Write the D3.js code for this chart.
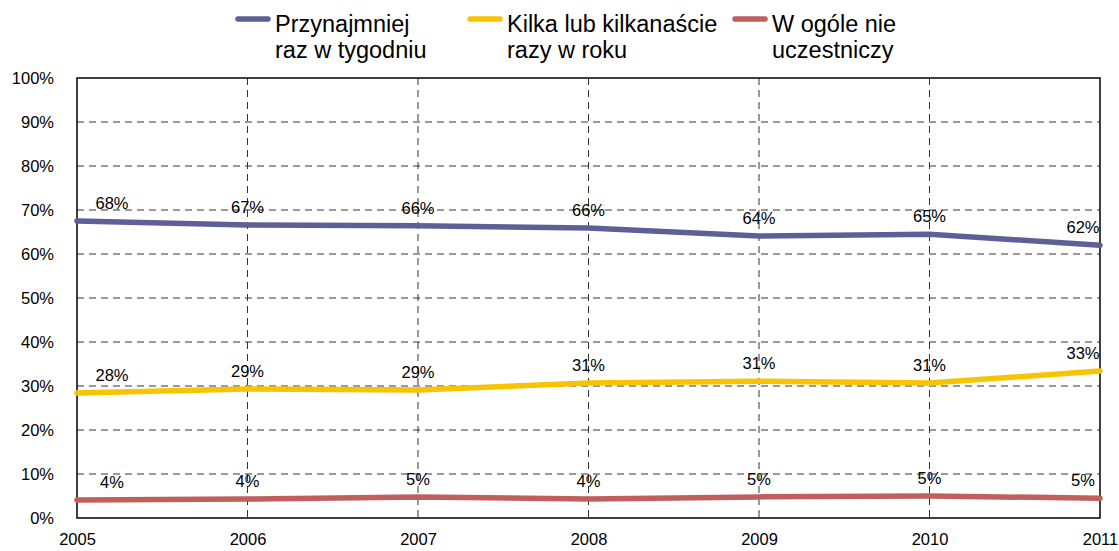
<!DOCTYPE html>
<html lang="pl">
<head>
    <meta charset="UTF-8">
    <title>Uczestnictwo</title>
    <script src="https://d3js.org/d3.v7.js"></script>
    <style>
        body { margin: 0; background: #fff; font-family: "Liberation Sans", Arial, sans-serif; }
    </style>
</head>
<body>
    <div class="canvas"></div>
    <script>
        // dane
        let years = ["2005", "2006", "2007", "2008", "2009", "2010", "2011"];
        let weekly = [67.5, 66.6, 66.4, 65.9, 64.1, 64.5, 62.0];
        let yearly = [28.4, 29.3, 29.1, 30.7, 31.1, 30.7, 33.4];
        let never = [4.1, 4.3, 4.8, 4.3, 4.8, 5.0, 4.5];
        let seriesNames = [["Przynajmniej", "raz w tygodniu"], ["Kilka lub kilkanaście", "razy w roku"], ["W ogóle nie", "uczestniczy"]];
        let yTicks = [0, 10, 20, 30, 40, 50, 60, 70, 80, 90, 100];
        let colors = ["#5f5f98", "#f8c300", "#c0605e"];

        let series = [weekly, yearly, never].map((v, i) => ({ name: seriesNames[i], values: v, color: colors[i] }));

        // płótno
        let margin = { top: 78, right: 19, bottom: 33, left: 77 };
        let width = 1119 - margin.left - margin.right;
        let height = 551 - margin.top - margin.bottom;

        let svg = d3.select(".canvas").append("svg")
            .attr("width", 1119)
            .attr("height", 551);
        let canvas = svg.append("g")
            .attr("transform", "translate(" + margin.left + "," + margin.top + ")");

        let x_scale = d3.scalePoint().domain(years).range([0, width]);
        let y_scale = d3.scaleLinear().domain([0, 100]).range([height, 0]);

        // siatka
        canvas.append("g")
            .selectAll("line.hgrid").data(yTicks.slice(1, -1)).enter().append("line")
            .attr("x1", 0).attr("x2", width)
            .attr("y1", d => y_scale(d)).attr("y2", d => y_scale(d))
            .attr("stroke", "#333").attr("stroke-dasharray", "7,5");
        canvas.append("g")
            .selectAll("line.vgrid").data(years.slice(1, -1)).enter().append("line")
            .attr("x1", d => x_scale(d)).attr("x2", d => x_scale(d))
            .attr("y1", 0).attr("y2", height)
            .attr("stroke", "#333").attr("stroke-dasharray", "7,5");

        // osie
        let yAxis = canvas.append("g")
            .call(d3.axisLeft(y_scale).tickValues(yTicks).tickFormat(d => d + "%").tickSize(0).tickPadding(23));
        yAxis.select(".domain").remove();
        yAxis.selectAll("text").style("font-size", "16.5px").style("font-family", "Liberation Sans, Arial, sans-serif").attr("fill", "#000");

        let xAxis = canvas.append("g")
            .attr("transform", "translate(0," + height + ")")
            .call(d3.axisBottom(x_scale).tickSize(0).tickPadding(15));
        xAxis.select(".domain").remove();
        xAxis.selectAll("text").style("font-size", "16.5px").style("font-family", "Liberation Sans, Arial, sans-serif").attr("fill", "#000");

        canvas.append("rect")
            .attr("width", width).attr("height", height)
            .attr("fill", "none").attr("stroke", "#000").attr("stroke-width", 1.5);

        // linie
        let line = d3.line()
            .x((d, i) => x_scale(years[i]))
            .y(d => y_scale(d));

        canvas.selectAll(".series").data(series).enter().append("path")
            .attr("class", "series")
            .attr("d", d => line(d.values))
            .attr("fill", "none")
            .attr("stroke", d => d.color)
            .attr("stroke-width", 5.5)
            .attr("stroke-linecap", "round");

        // etykiety
        series.forEach(s => {
            canvas.selectAll(null).data(s.values).enter().append("text")
                .attr("x", (d, i) => x_scale(years[i]) + (i === 0 ? 35 : i === years.length - 1 ? -17 : 0))
                .attr("y", d => y_scale(d) - 12)
                .attr("text-anchor", "middle")
                .style("font-size", "16.5px")
                .text(d => Math.round(d) + "%");
        });

        // legenda
        let legendX = [238, 470, 735];
        let legend = svg.append("g");
        series.forEach((s, i) => {
            legend.append("line")
                .attr("x1", legendX[i]).attr("x2", legendX[i] + 30)
                .attr("y1", 19).attr("y2", 19)
                .attr("stroke", s.color).attr("stroke-width", 5.5).attr("stroke-linecap", "round");
            legend.append("text")
                .attr("x", legendX[i] + 37).attr("y", 32)
                .style("font-size", "23.5px")
                .text(s.name[0]);
            legend.append("text")
                .attr("x", legendX[i] + 37).attr("y", 58)
                .style("font-size", "23.5px")
                .text(s.name[1]);
        });
    </script>
</body>
</html>
